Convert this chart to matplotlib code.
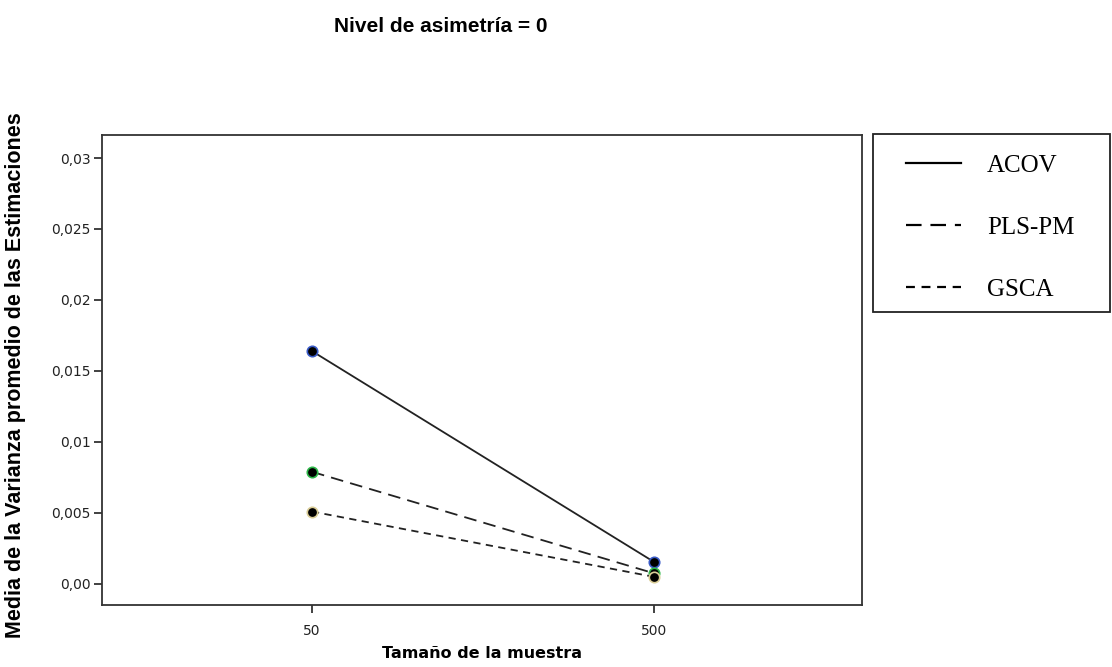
import matplotlib.pyplot as plt
from matplotlib.lines import Line2D
from matplotlib.patches import Rectangle

# Data
sizes = ['50', '500']
acov = [0.0164, 0.00155]
plspm = [0.0079, 0.00075]
gsca = [0.0051, 0.0005]
y_ticks = [0.0, 0.005, 0.01, 0.015, 0.02, 0.025, 0.03]
y_tick_labels = ['0,00', '0,005', '0,01', '0,015', '0,02', '0,025', '0,03']

series = [
    ('ACOV', acov, '-', '#3a5bc7'),
    ('PLS-PM', plspm, (0, (7, 4)), '#2fb84a'),
    ('GSCA', gsca, (0, (4, 3)), '#d9cc96'),
]

fig = plt.figure(figsize=(11.12, 6.67), dpi=100)
ax = fig.add_axes([0.0917, 0.093, 0.6835, 0.7046])

x = range(len(sizes))
for name, vals, ls, edge in series:
    ax.plot(x, vals, linestyle=ls, color='#222222', linewidth=1.3,
            marker='o', markersize=7.5, markerfacecolor='black',
            markeredgecolor=edge, markeredgewidth=1.2)

ax.set_xlim(-0.614, 1.608)
ax.set_ylim(-0.00148, 0.03162)
ax.set_xticks(list(x))
ax.set_xticklabels(sizes)
ax.set_yticks(y_ticks)
ax.set_yticklabels(y_tick_labels)
ax.tick_params(labelsize=10, labelcolor='#222222', length=6, width=1.3,
               color='#333333', direction='out')
ax.tick_params(axis='x', pad=8)
ax.tick_params(axis='y', pad=2)
for sp in ax.spines.values():
    sp.set_linewidth(1.3)
    sp.set_color('#333333')

ax.set_xlabel('Tamaño de la muestra', fontsize=11.5, fontweight='bold',
              family='DejaVu Sans')
ax.xaxis.set_label_coords(0.5, -0.088)
ax.set_ylabel('Media de la Varianza promedio de las Estimaciones',
              fontsize=15.5, fontweight='bold', family='Liberation Sans')
ax.yaxis.set_label_coords(-0.1, 0.49)

fig.text(0.396, 0.96, 'Nivel de asimetría = 0', ha='center', va='center',
         fontsize=15, fontweight='bold', family='Liberation Sans')

# Legend: box drawn separately so the padding can differ per side
fig.patches.append(Rectangle((873 / 1112, 1 - 312 / 667), 237 / 1112, 178 / 667,
                             transform=fig.transFigure, fill=False,
                             edgecolor='#222222', linewidth=1.3))
handles = [Line2D([], [], linestyle=ls, color='black', linewidth=1.6)
           for _, _, ls, _ in series]
labels = [s[0] for s in series]
fig.legend(handles, labels, loc='upper left',
           bbox_to_anchor=(0.8147, 0.7682), frameon=False,
           prop={'family': 'Liberation Serif', 'size': 18},
           handlelength=2.2, handletextpad=1.05, labelspacing=1.57,
           borderpad=0, borderaxespad=0)

fig.savefig('out.png', dpi=100)
